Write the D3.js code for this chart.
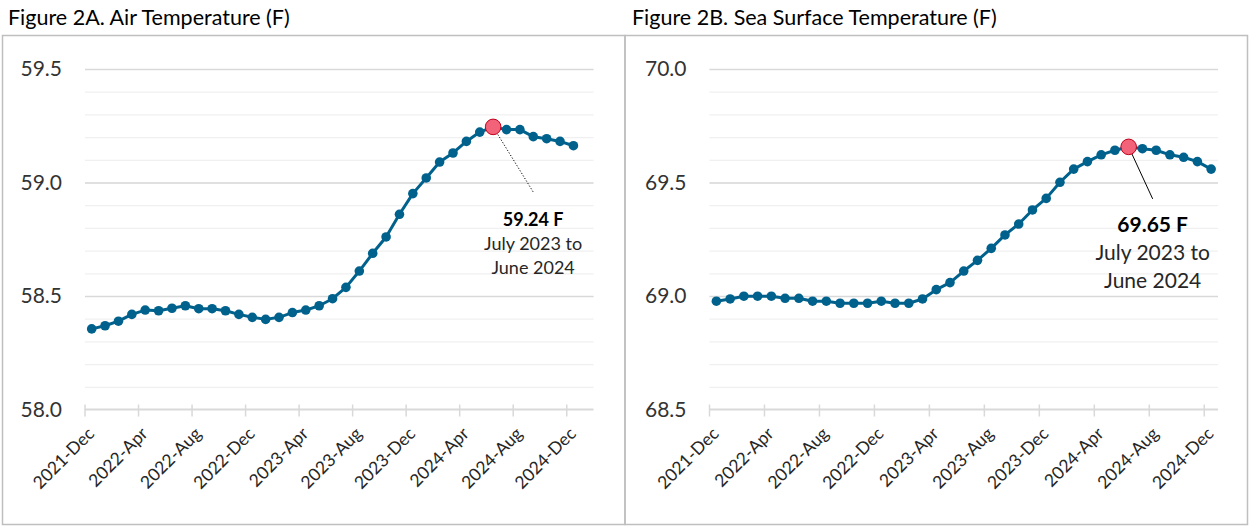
<!DOCTYPE html>
<html>
<head>
  <meta charset="utf-8">
  <title>Figure 2A / 2B</title>
  <script src="https://d3js.org/d3.v7.min.js"></script>
  <style>
    body { margin: 0; background: #fff; font-family: Lato, "Open Sans", sans-serif; }
    svg text { font-family: Lato, "Open Sans", sans-serif; }
  </style>
</head>
<body>
  <div id="chart"></div>
  <script>
    // monthly categories, 2021-Dec .. 2024-Dec
    const months = [
      "2021-Dec",
      "2022-Jan", "2022-Feb", "2022-Mar", "2022-Apr", "2022-May", "2022-Jun",
      "2022-Jul", "2022-Aug", "2022-Sep", "2022-Oct", "2022-Nov", "2022-Dec",
      "2023-Jan", "2023-Feb", "2023-Mar", "2023-Apr", "2023-May", "2023-Jun",
      "2023-Jul", "2023-Aug", "2023-Sep", "2023-Oct", "2023-Nov", "2023-Dec",
      "2024-Jan", "2024-Feb", "2024-Mar", "2024-Apr", "2024-May", "2024-Jun",
      "2024-Jul", "2024-Aug", "2024-Sep", "2024-Oct", "2024-Nov", "2024-Dec"
    ];

    // the air chart has one empty slot after the last month
    const airSlots = months.concat(["2025-Jan"]);

    const tickLabels = [
      "2021-Dec", "2022-Apr", "2022-Aug", "2022-Dec", "2023-Apr",
      "2023-Aug", "2023-Dec", "2024-Apr", "2024-Aug", "2024-Dec"
    ];

    // 12-month running mean, air temperature (F)
    const airTemp = [
      58.355, 58.369, 58.389, 58.419, 58.438, 58.435, 58.446, 58.457, 58.444, 58.444,
      58.435, 58.419, 58.406, 58.397, 58.406, 58.427, 58.438, 58.457, 58.488, 58.538,
      58.610, 58.688, 58.760, 58.860, 58.951, 59.020, 59.090, 59.130, 59.181, 59.222,
      59.245, 59.233, 59.233, 59.202, 59.193, 59.181, 59.162
    ];

    // 12-month running mean, sea surface temperature (F)
    const seaTemp = [
      68.977, 68.987, 68.999, 68.999, 68.999, 68.990, 68.990, 68.977, 68.977, 68.968,
      68.968, 68.968, 68.977, 68.968, 68.968, 68.987, 69.028, 69.059, 69.110, 69.157,
      69.210, 69.269, 69.317, 69.379, 69.430, 69.501, 69.559, 69.592, 69.622, 69.642,
      69.657, 69.649, 69.642, 69.622, 69.611, 69.592, 69.559
    ];

    const airTicks = [58.0, 58.5, 59.0, 59.5];
    const seaTicks = [68.5, 69.0, 69.5, 70.0];

    const highlightMonth = "2024-Jun";
    const airNote = ["59.24 F", "July 2023 to", "June 2024"];
    const seaNote = ["69.65 F", "July 2023 to", "June 2024"];

    const lineColor = "#00628C";
    const markColor = "#F2637A";
    const markStroke = "#C0001A";

    const svg = d3.select("#chart").append("svg")
      .attr("width", 1250)
      .attr("height", 527);

    // panel frames
    svg.append("rect")
      .attr("x", 2.5).attr("y", 35.5)
      .attr("width", 622.5).attr("height", 489)
      .attr("fill", "none").attr("stroke", "#BFBFBF").attr("stroke-width", 1.5);
    svg.append("rect")
      .attr("x", 625).attr("y", 35.5)
      .attr("width", 622.5).attr("height", 489)
      .attr("fill", "none").attr("stroke", "#BFBFBF").attr("stroke-width", 1.5);

    function drawPanel(opt) {
      const g = svg.append("g");
      const top = 69, bottom = 409.5;

      // title
      svg.append("text")
        .attr("x", opt.titleX).attr("y", 25)
        .style("font-size", "21.5px")
        .style("fill", "#000")
        .text(opt.title);

      const x = d3.scaleBand()
        .domain(opt.slots)
        .range([opt.left, opt.left + 508.5]);

      const y = d3.scaleLinear()
        .domain([opt.ticks[0], opt.ticks[opt.ticks.length - 1]])
        .range([bottom, top]);

      // minor gridlines every 0.1
      const minor = d3.range(opt.ticks[0] * 10 + 1, opt.ticks[opt.ticks.length - 1] * 10 + 1).map(v => v / 10);
      g.append("g")
        .call(d3.axisLeft(y).tickValues(minor).tickSize(-508.5).tickFormat(""))
        .attr("transform", `translate(${opt.left},0)`)
        .call(a => a.select(".domain").remove())
        .call(a => a.selectAll("line").attr("stroke", "#F0F0F0").attr("stroke-width", 1.2));

      // major gridlines + labels
      g.append("g")
        .attr("transform", `translate(${opt.left},0)`)
        .call(d3.axisLeft(y).tickValues(opt.ticks.slice(1)).tickSize(-508.5).tickFormat(""))
        .call(a => a.select(".domain").remove())
        .call(a => a.selectAll("line").attr("stroke", "#D9D9D9").attr("stroke-width", 1.5));

      g.selectAll(".ylab")
        .data(opt.ticks)
        .join("text")
        .attr("x", opt.left - 23)
        .attr("y", d => y(d))
        .attr("dy", "0.35em")
        .attr("text-anchor", "end")
        .style("font-size", "21px")
        .style("fill", "#333")
        .text(d => d.toFixed(1));

      // x axis: ticks sit on the band edges
      const edge = x.bandwidth();
      const tickIdx = tickLabels.map(t => opt.slots.indexOf(t));
      const xa = g.append("g").attr("transform", `translate(0,${bottom})`);
      xa.append("line")
        .attr("x1", opt.left).attr("x2", opt.left + 508.5)
        .attr("stroke", "#D9D9D9").attr("stroke-width", 2);
      xa.selectAll(".tk")
        .data(tickIdx)
        .join("line")
        .attr("x1", i => x(opt.slots[i])).attr("x2", i => x(opt.slots[i]))
        .attr("y1", -5).attr("y2", 7)
        .attr("stroke", "#D9D9D9").attr("stroke-width", 1.5);
      xa.selectAll(".xl")
        .data(tickIdx)
        .join("text")
        .attr("text-anchor", "end")
        .attr("transform", i => `translate(${x(opt.slots[i]) + 6},${21}) rotate(-45)`)
        .attr("dy", "0.35em")
        .style("font-size", "17.5px")
        .style("fill", "#262626")
        .text(i => opt.slots[i]);

      // series
      const pts = opt.values.map((v, i) => ({ m: months[i], v: v }));
      const line = d3.line()
        .x(d => x(d.m) + edge / 2)
        .y(d => y(d.v));

      g.append("path")
        .datum(pts)
        .attr("fill", "none")
        .attr("stroke", lineColor)
        .attr("stroke-width", 3)
        .attr("stroke-linejoin", "round")
        .attr("d", line);

      g.selectAll(".dot")
        .data(pts.filter(d => d.m !== highlightMonth))
        .join("circle")
        .attr("cx", d => x(d.m) + edge / 2)
        .attr("cy", d => y(d.v))
        .attr("r", 4.8)
        .attr("fill", lineColor);

      // highlighted month + call-out
      const h = pts.find(d => d.m === highlightMonth);
      const hx = x(h.m) + edge / 2, hy = y(h.v);

      g.append("line")
        .attr("x1", hx).attr("y1", hy)
        .attr("x2", hx + opt.lead[0]).attr("y2", hy + opt.lead[1])
        .attr("stroke", "#000")
        .attr("stroke-width", 1)
        .attr("stroke-dasharray", opt.dotted ? "1.2,1.8" : null);

      g.append("circle")
        .attr("cx", hx).attr("cy", hy)
        .attr("r", 7.8)
        .attr("fill", markColor)
        .attr("stroke", markStroke)
        .attr("stroke-width", 1);

      opt.note.forEach((t, i) => {
        g.append("text")
          .attr("x", hx + opt.noteDx)
          .attr("y", hy + opt.noteDy + i * opt.noteGap)
          .attr("text-anchor", "middle")
          .style("font-size", opt.noteSize + "px")
          .style("font-weight", i === 0 ? "bold" : "normal")
          .style("fill", i === 0 ? "#000" : "#262626")
          .text(t);
      });
    }

    drawPanel({
      title: "Figure 2A. Air Temperature (F)",
      titleX: 8,
      slots: airSlots,
      values: airTemp,
      ticks: airTicks,
      left: 85,
      note: airNote,
      lead: [40, 65],
      dotted: true,
      noteDx: 40, noteDy: 99, noteGap: 24, noteSize: 18
    });

    drawPanel({
      title: "Figure 2B. Sea Surface Temperature (F)",
      titleX: 632,
      slots: months,
      values: seaTemp,
      ticks: seaTicks,
      left: 709.5,
      note: seaNote,
      lead: [24, 52],
      dotted: false,
      noteDx: 24, noteDy: 85, noteGap: 28, noteSize: 21
    });
  </script>
</body>
</html>
